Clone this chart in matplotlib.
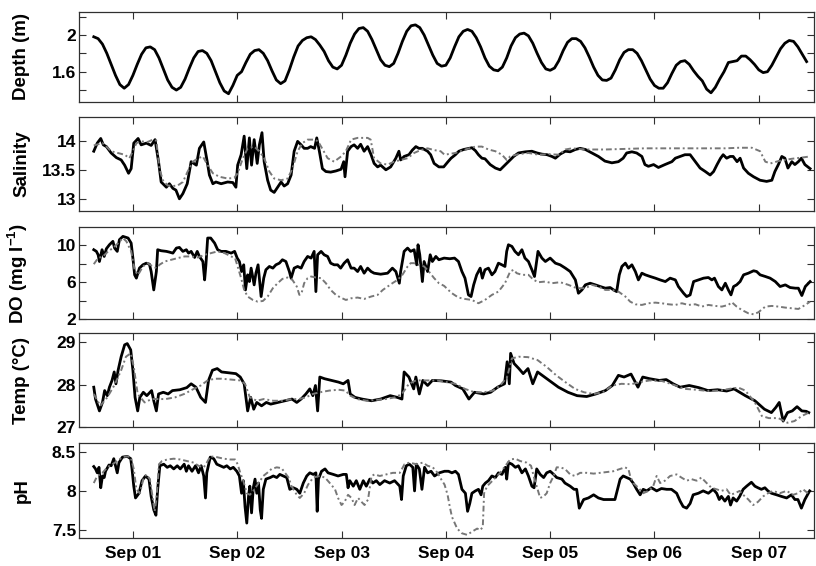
import numpy as np
import matplotlib
matplotlib.use("Agg")
import matplotlib.pyplot as plt
import matplotlib.dates as mdates

plt.rcParams['font.family'] = ['Liberation Sans', 'DejaVu Sans']
plt.rcParams['font.weight'] = 'bold'
plt.rcParams['mathtext.fontset'] = 'custom'
plt.rcParams['mathtext.rm'] = 'Liberation Sans:bold'
plt.rcParams['mathtext.default'] = 'rm'

# time origin of the record, values below are hours after it
start = np.datetime64('2012-08-31T15:00')

# water depth, hourly
depth = [1.98, 1.96, 1.90, 1.80, 1.68, 1.56, 1.46, 1.42,
         1.46, 1.56, 1.68, 1.79, 1.86, 1.87,
         1.84, 1.75, 1.63, 1.51, 1.43, 1.40,
         1.43, 1.52, 1.64, 1.75, 1.82, 1.83,
         1.80, 1.72, 1.60, 1.48, 1.39, 1.36,
         1.45, 1.56, 1.60, 1.70, 1.79, 1.83, 1.84,
         1.80, 1.72, 1.61, 1.51, 1.47,
         1.50, 1.62, 1.76, 1.88, 1.94, 1.97, 1.98,
         1.95, 1.89, 1.82, 1.72, 1.65, 1.63,
         1.67, 1.78, 1.91, 2.01, 2.07, 2.08,
         2.04, 1.95, 1.84, 1.73, 1.67, 1.655,
         1.69, 1.80, 1.93, 2.04, 2.10, 2.11,
         2.08, 2.00, 1.89, 1.78, 1.69, 1.66,
         1.67, 1.75, 1.87, 1.98, 2.04, 2.06,
         2.04, 1.97, 1.87, 1.75, 1.66, 1.62, 1.61,
         1.65, 1.75, 1.88, 1.97, 2.01, 2.02,
         1.99, 1.91, 1.80, 1.70, 1.63, 1.615,
         1.64, 1.72, 1.83, 1.92, 1.96, 1.96,
         1.93, 1.86, 1.76, 1.65, 1.56, 1.51, 1.505,
         1.53, 1.62, 1.73, 1.81, 1.84, 1.84,
         1.80, 1.72, 1.62, 1.52, 1.45, 1.42, 1.42,
         1.48, 1.58, 1.67, 1.71, 1.72,
         1.68, 1.61, 1.55, 1.50, 1.41, 1.37,
         1.43, 1.52, 1.60, 1.70, 1.71, 1.72, 1.77, 1.77, 1.73,
         1.68, 1.62, 1.59, 1.60, 1.67, 1.76, 1.85, 1.91, 1.94, 1.93, 1.87, 1.79, 1.71]
depth_h = np.arange(len(depth))

# [hour, value] pairs: measured (black) and second series (grey)
sal_obs = [[0, 13.83], [0.8, 13.97], [1.6, 14.05], [2.2, 13.94], [2.9, 13.91], [4.0, 13.80], [5.2, 13.72],
           [6.3, 13.68], [7.1, 13.59], [8.0, 13.45], [8.6, 13.53], [9.2, 13.97], [10.2, 14.05], [10.9, 13.94],
           [12.1, 13.97], [13.2, 13.93], [14.1, 14.03], [14.9, 13.65], [15.5, 13.30], [16.7, 13.21], [17.4, 13.27],
           [18.2, 13.19], [18.9, 13.16], [19.7, 13.01], [20.5, 13.10], [21.5, 13.27], [22.4, 13.65], [23.6, 13.59],
           [24.3, 13.88], [25.3, 13.99], [26.1, 13.65], [26.6, 13.42], [27.4, 13.27], [28.1, 13.30], [29.3, 13.27],
           [30.8, 13.30], [32.0, 13.29], [32.7, 13.21], [33.1, 13.59], [33.9, 13.77], [34.6, 14.09], [35.2, 13.53],
           [35.8, 14.06], [36.3, 13.59], [36.9, 14.03], [37.6, 13.62], [38.1, 13.94], [38.7, 14.15], [39.2, 13.65],
           [40.0, 13.33], [40.7, 13.16], [41.5, 13.12], [42.3, 13.21], [43.1, 13.30], [43.8, 13.23], [44.6, 13.27],
           [45.4, 13.42], [46.1, 13.83], [46.9, 14.00], [47.7, 13.94], [48.4, 13.88], [49.2, 13.88], [49.9, 13.91],
           [50.8, 13.88], [51.3, 14.06], [51.9, 13.83], [52.6, 13.53], [53.4, 13.48], [54.5, 13.47], [55.7, 13.49],
           [56.9, 13.52], [57.5, 13.65], [57.8, 13.39], [58.4, 13.83], [59.2, 13.91], [59.9, 13.94], [60.7, 13.88],
           [61.4, 13.95], [62.2, 13.83], [63.0, 13.91], [63.8, 13.77], [64.5, 13.62], [65.3, 13.56], [66.0, 13.59],
           [67.2, 13.51], [68.3, 13.56], [69.5, 13.71], [70.2, 13.83], [70.6, 13.68], [71.4, 13.74], [72.5, 13.77],
           [73.3, 13.85], [74.1, 13.91], [74.8, 13.88], [75.6, 13.88], [76.8, 13.83], [77.5, 13.77], [78.3, 13.62],
           [79.4, 13.56], [80.5, 13.56], [81.5, 13.65], [82.2, 13.71], [83.2, 13.77], [84.0, 13.83], [85.1, 13.86],
           [86.3, 13.88], [87.0, 13.89], [87.8, 13.84], [88.5, 13.77], [89.3, 13.71], [90.0, 13.70], [91.2, 13.60],
           [92.4, 13.54], [93.5, 13.51], [94.3, 13.57], [95.4, 13.65], [96.6, 13.74], [97.7, 13.80], [99.3, 13.82],
           [100.8, 13.83], [102.0, 13.80], [103.1, 13.78], [104.3, 13.77], [105.4, 13.74], [106.2, 13.71],
           [107.3, 13.78], [108.5, 13.83], [109.6, 13.82], [110.8, 13.86], [111.9, 13.88], [113.1, 13.86],
           [114.6, 13.80], [116.1, 13.74], [117.6, 13.66], [119.2, 13.63], [120.7, 13.65], [121.8, 13.71],
           [122.6, 13.80], [123.8, 13.82], [124.9, 13.80], [126.1, 13.74], [126.8, 13.60], [127.6, 13.57],
           [128.8, 13.60], [129.9, 13.55], [131.4, 13.60], [133.0, 13.65], [133.8, 13.71], [134.9, 13.74],
           [136.0, 13.77], [137.2, 13.77], [138.4, 13.65], [139.5, 13.54], [140.7, 13.48], [141.8, 13.42],
           [142.6, 13.48], [143.4, 13.60], [144.2, 13.71], [144.8, 13.77], [145.6, 13.71], [146.4, 13.74],
           [147.1, 13.74], [148.0, 13.65], [148.7, 13.71], [149.5, 13.54], [150.6, 13.45], [151.8, 13.39],
           [153.3, 13.33], [154.8, 13.31], [156.0, 13.33], [156.7, 13.48], [157.5, 13.60], [158.3, 13.74],
           [159.0, 13.71], [159.7, 13.54], [160.6, 13.65], [161.3, 13.60], [162.1, 13.65], [162.8, 13.71],
           [163.6, 13.60], [164.8, 13.53]]
sal_mod = [[0, 13.93], [2.0, 13.97], [2.9, 13.91], [4.0, 13.83], [5.5, 13.80], [7.1, 13.77], [8.2, 13.71],
           [9.0, 13.83], [9.8, 13.97], [10.9, 14.00], [12.4, 13.99], [13.6, 14.03], [14.4, 14.01], [15.1, 13.53],
           [15.9, 13.33], [17.0, 13.24], [18.2, 13.23], [19.3, 13.24], [20.5, 13.30], [21.6, 13.48], [22.8, 13.65],
           [24.0, 13.71], [25.1, 13.74], [26.2, 13.59], [27.4, 13.45], [28.9, 13.39], [30.8, 13.36], [32.3, 13.37],
           [33.1, 13.45], [34.3, 13.71], [35.4, 13.88], [36.9, 13.91], [38.1, 13.83], [39.2, 13.71], [40.4, 13.48],
           [41.5, 13.36], [43.1, 13.33], [44.6, 13.36], [45.7, 13.53], [46.9, 13.83], [48.0, 13.97], [49.2, 14.03],
           [50.8, 14.03], [51.6, 14.00], [52.3, 13.91], [53.8, 13.71], [55.3, 13.65], [56.9, 13.74], [58.0, 13.83],
           [59.2, 14.03], [60.7, 14.06], [63.0, 14.06], [63.7, 14.03], [64.5, 13.71], [66.0, 13.62], [67.6, 13.60],
           [69.1, 13.65], [70.6, 13.68], [72.2, 13.71], [73.7, 13.80], [75.2, 13.85], [76.8, 13.88], [78.3, 13.85],
           [79.8, 13.83], [80.7, 13.77], [83.2, 13.80], [85.5, 13.86], [87.8, 13.91], [89.3, 13.91], [90.8, 13.86],
           [92.4, 13.83], [93.9, 13.77], [95.0, 13.68], [95.8, 13.74], [97.7, 13.78], [100.0, 13.80],
           [102.4, 13.77], [104.6, 13.78], [107.0, 13.77], [108.5, 13.86], [110.0, 13.88], [113.1, 13.86],
           [117.6, 13.86], [122.2, 13.87], [126.8, 13.88], [131.4, 13.88], [136.0, 13.88], [140.7, 13.88],
           [145.3, 13.88], [148.4, 13.89], [151.4, 13.89], [153.3, 13.83], [154.5, 13.65], [155.7, 13.62],
           [157.5, 13.66], [160.6, 13.70], [162.8, 13.72], [164.8, 13.74]]

do_obs = [[0, 9.53], [0.6, 9.35], [1.0, 8.98], [1.3, 8.25], [1.9, 9.53], [2.4, 8.80], [2.9, 9.64], [3.6, 10.07],
          [4.4, 10.44], [4.8, 9.70], [5.4, 9.35], [5.9, 10.62], [6.7, 10.98], [7.9, 10.80], [8.6, 10.25],
          [9.0, 8.62], [9.4, 6.80], [9.8, 6.44], [10.5, 7.53], [11.3, 7.89], [12.1, 8.07], [12.8, 7.96],
          [13.2, 7.16], [13.8, 5.16], [14.4, 7.16], [14.7, 9.53], [15.5, 9.42], [16.7, 9.35], [17.4, 9.27],
          [18.2, 9.16], [19.0, 9.71], [19.7, 9.78], [20.5, 9.35], [21.3, 9.53], [21.8, 9.16], [22.4, 9.35],
          [23.2, 8.69], [23.8, 9.35], [24.3, 8.80], [25.1, 8.25], [25.5, 6.25], [25.8, 7.89], [26.2, 10.80],
          [26.9, 10.80], [27.8, 10.25], [28.5, 9.53], [29.3, 9.35], [30.4, 9.35], [31.6, 9.16], [32.4, 9.35],
          [33.0, 8.62], [33.5, 8.25], [34.0, 7.16], [34.5, 7.89], [34.9, 5.16], [35.4, 6.80], [35.8, 6.07],
          [36.2, 7.53], [36.9, 5.71], [37.3, 6.98], [37.8, 7.89], [38.5, 4.44], [39.1, 6.44], [39.6, 7.35],
          [40.4, 7.71], [41.2, 7.53], [41.9, 7.89], [42.7, 8.07], [43.4, 8.44], [44.2, 8.25], [45.0, 7.16],
          [45.4, 6.44], [46.1, 7.53], [46.9, 7.71], [47.7, 7.53], [48.4, 8.25], [49.2, 8.80], [50.0, 8.62],
          [50.7, 9.35], [51.1, 4.98], [51.5, 8.98], [52.3, 9.35], [53.0, 8.98], [53.8, 8.80], [54.5, 8.07],
          [55.3, 7.89], [56.1, 7.89], [56.8, 7.53], [57.6, 8.07], [58.4, 8.44], [59.2, 7.53], [59.9, 7.53],
          [60.7, 7.16], [61.4, 7.71], [62.2, 6.98], [63.0, 7.53], [63.8, 7.16], [64.5, 6.98], [66.0, 6.87],
          [67.6, 6.98], [68.7, 7.53], [69.5, 7.16], [70.3, 5.89], [70.6, 7.16], [71.4, 9.35], [72.2, 9.71],
          [72.9, 9.35], [73.7, 9.53], [74.3, 7.89], [74.6, 10.07], [75.0, 8.98], [75.6, 6.07], [76.0, 8.25],
          [76.8, 7.16], [77.4, 8.98], [77.9, 8.25], [78.7, 8.80], [79.4, 8.44], [80.6, 8.62], [81.9, 8.55],
          [83.0, 8.62], [83.9, 8.25], [84.7, 7.16], [85.4, 6.44], [86.2, 4.62], [86.8, 4.44], [87.4, 5.71],
          [88.1, 6.80], [88.9, 7.53], [89.4, 6.44], [90.0, 7.35], [90.8, 7.53], [91.6, 6.80], [92.3, 7.16],
          [93.1, 8.07], [93.9, 7.89], [94.6, 7.71], [95.0, 9.35], [95.4, 10.07], [96.2, 9.89], [96.9, 9.35],
          [97.7, 8.98], [98.5, 9.53], [99.2, 8.62], [100.0, 8.25], [100.8, 7.35], [101.4, 6.62], [102.2, 9.35],
          [103.1, 8.62], [103.9, 8.25], [105.0, 8.62], [106.2, 8.07], [107.3, 7.89], [108.5, 7.53], [109.6, 7.16],
          [110.8, 6.25], [111.5, 4.80], [112.3, 5.16], [113.1, 5.71], [114.2, 5.89], [115.4, 5.71], [116.5, 5.53],
          [117.7, 5.35], [118.8, 5.42], [119.6, 5.16], [120.3, 4.98], [120.9, 6.80], [121.5, 7.71], [122.3, 8.07],
          [123.0, 7.53], [123.8, 7.89], [124.6, 7.16], [125.3, 6.25], [126.1, 6.98], [126.9, 6.80], [128.0, 6.62],
          [129.2, 6.44], [130.3, 6.25], [131.5, 6.07], [132.6, 6.44], [133.8, 6.25], [134.5, 5.53], [135.7, 4.80],
          [136.4, 4.44], [137.2, 4.62], [138.0, 6.07], [139.1, 6.25], [140.3, 6.44], [141.4, 6.51], [142.2, 6.25],
          [142.8, 6.44], [143.7, 5.53], [144.5, 5.16], [145.3, 5.89], [146.0, 5.16], [146.6, 4.62], [147.2, 5.53],
          [147.9, 5.71], [148.7, 6.07], [149.5, 6.80], [150.6, 6.98], [151.8, 7.24], [152.5, 7.16], [153.3, 6.80],
          [154.5, 6.62], [155.6, 6.44], [156.8, 6.07], [157.9, 5.53], [159.1, 5.71], [160.2, 5.42], [161.4, 5.35],
          [162.1, 5.35], [162.9, 4.55], [163.7, 5.53], [164.8, 6.07]]
do_mod = [[0, 7.96], [1.0, 8.62], [2.1, 8.80], [3.3, 9.35], [4.4, 9.71], [5.6, 10.25], [6.7, 10.80], [7.5, 10.44],
          [8.6, 9.35], [9.4, 7.35], [10.2, 6.80], [11.3, 7.71], [12.4, 8.07], [13.6, 7.71], [14.4, 7.53],
          [15.1, 7.89], [16.3, 8.25], [17.8, 8.44], [19.3, 8.62], [20.9, 8.80], [22.4, 8.80], [24.0, 8.69],
          [25.5, 8.98], [27.0, 9.16], [28.5, 9.35], [30.1, 9.16], [31.6, 8.80], [32.5, 8.62], [33.1, 7.71],
          [33.9, 6.44], [34.6, 5.16], [35.4, 4.44], [36.6, 4.07], [37.7, 3.89], [38.9, 3.96], [40.0, 4.44],
          [41.2, 5.35], [42.3, 5.89], [43.4, 6.36], [44.6, 6.51], [45.7, 6.25], [46.7, 5.53], [47.3, 4.62],
          [47.8, 4.80], [48.4, 5.89], [49.2, 6.44], [50.0, 6.62], [51.1, 6.51], [52.3, 6.44], [53.4, 5.89],
          [54.5, 5.16], [55.7, 4.62], [56.8, 4.33], [58.0, 4.07], [59.2, 4.25], [60.7, 4.33], [62.2, 4.18],
          [63.8, 4.44], [65.3, 4.62], [66.5, 5.16], [67.6, 5.53], [68.7, 5.89], [69.9, 6.25], [71.0, 6.80],
          [72.2, 7.71], [72.9, 8.07], [73.7, 8.07], [74.8, 7.89], [76.0, 7.71], [77.1, 7.16], [78.3, 6.44],
          [79.4, 5.89], [80.6, 5.60], [81.7, 5.10], [82.4, 4.80], [83.9, 4.33], [85.4, 4.18], [87.0, 4.07],
          [88.5, 3.71], [90.0, 4.07], [91.6, 4.62], [93.1, 4.98], [94.6, 5.89], [95.8, 7.16], [96.6, 7.35],
          [97.3, 6.98], [98.5, 6.80], [100.0, 6.80], [101.2, 6.25], [102.3, 6.00], [103.9, 6.07], [105.4, 5.89],
          [107.3, 6.00], [109.2, 5.71], [111.1, 5.35], [113.1, 5.35], [114.6, 5.71], [116.1, 5.53], [117.7, 5.16],
          [119.2, 5.16], [120.7, 4.98], [122.3, 4.44], [123.4, 3.89], [124.6, 3.60], [126.1, 3.53], [127.6, 3.71],
          [129.2, 3.78], [130.7, 3.71], [132.2, 3.60], [133.8, 3.53], [135.3, 3.71], [136.8, 3.53], [138.4, 3.60],
          [139.9, 3.35], [141.4, 3.53], [143.0, 3.42], [144.5, 3.35], [146.0, 3.53], [146.8, 3.82], [147.9, 3.35],
          [149.1, 2.98], [150.6, 2.62], [151.8, 2.51], [152.9, 2.73], [154.5, 3.35], [156.0, 3.42], [157.5, 3.35],
          [159.1, 3.24], [160.6, 3.16], [162.1, 3.09], [163.7, 3.53], [164.8, 3.89]]

temp_obs = [[0, 27.94], [0.4, 27.66], [1.3, 27.38], [2.0, 27.58], [2.5, 27.86], [3.1, 27.74], [3.6, 27.94],
            [4.2, 28.10], [4.7, 28.30], [5.1, 28.02], [5.6, 28.34], [6.3, 28.66], [7.1, 28.94], [7.7, 28.97],
            [8.5, 28.82], [9.0, 28.34], [9.5, 27.70], [10.1, 27.38], [10.6, 27.70], [11.4, 27.82], [12.2, 27.74],
            [13.3, 27.86], [13.8, 27.62], [14.4, 27.38], [14.9, 27.78], [16.0, 27.82], [17.1, 27.78], [18.1, 27.86],
            [19.8, 27.88], [21.4, 27.93], [22.4, 28.02], [23.5, 27.94], [24.6, 27.70], [25.7, 27.58], [26.4, 28.10],
            [27.3, 28.34], [28.4, 28.38], [29.4, 28.30], [31.1, 28.28], [32.7, 28.26], [33.7, 28.18], [34.6, 28.02],
            [35.4, 27.38], [36.1, 27.70], [36.8, 27.42], [37.5, 27.58], [38.6, 27.50], [39.7, 27.58], [40.7, 27.54],
            [42.4, 27.58], [44.0, 27.62], [45.6, 27.66], [46.7, 27.58], [47.7, 27.66], [48.8, 27.78], [49.7, 27.90],
            [50.4, 27.74], [51.0, 27.98], [51.5, 27.38], [52.0, 28.18], [53.1, 28.14], [54.7, 28.10], [56.3, 28.06],
            [57.4, 28.02], [58.5, 28.10], [59.0, 27.78], [60.1, 27.70], [61.7, 27.66], [63.9, 27.62], [66.0, 27.66],
            [68.2, 27.74], [69.8, 27.70], [70.9, 27.66], [71.4, 28.30], [72.5, 28.18], [73.6, 27.90], [74.1, 28.18],
            [74.9, 27.78], [75.7, 28.10], [76.8, 27.98], [77.9, 28.10], [80.0, 28.09], [82.2, 28.06], [83.2, 27.98],
            [84.9, 27.90], [86.3, 27.66], [87.6, 27.82], [89.7, 27.78], [91.3, 27.82], [92.9, 27.94], [94.5, 28.02],
            [95.1, 28.54], [95.6, 28.02], [95.9, 28.74], [96.7, 28.50], [97.8, 28.38], [98.8, 28.26], [99.9, 28.38],
            [101.0, 28.02], [102.1, 28.30], [103.7, 28.18], [105.3, 28.06], [106.9, 27.94], [109.1, 27.82],
            [111.2, 27.74], [113.4, 27.72], [115.5, 27.78], [117.7, 27.86], [119.3, 27.98], [120.7, 28.22],
            [122.0, 28.18], [123.6, 28.25], [125.2, 27.94], [126.3, 28.18], [127.9, 28.14], [130.1, 28.10],
            [131.7, 28.12], [133.3, 28.02], [134.9, 27.94], [137.0, 27.98], [139.2, 27.93], [141.3, 27.86],
            [143.5, 27.88], [145.6, 27.85], [147.3, 27.90], [148.9, 27.80], [149.9, 27.74], [152.1, 27.62],
            [154.3, 27.42], [155.9, 27.34], [156.9, 27.46], [157.7, 27.58], [158.6, 27.14], [159.6, 27.34],
            [160.7, 27.38], [161.8, 27.48], [162.9, 27.38], [163.9, 27.37], [164.5, 27.34]]
temp_mod = [[0, 27.78], [1.5, 27.50], [3.1, 27.70], [4.7, 27.98], [6.3, 28.34], [7.4, 28.66], [8.5, 28.74],
            [9.2, 28.42], [10.1, 27.78], [11.7, 27.58], [13.3, 27.66], [14.9, 27.66], [16.5, 27.66], [18.7, 27.70],
            [20.8, 27.78], [23.0, 27.90], [24.6, 27.98], [26.2, 28.10], [27.8, 28.14], [29.4, 28.14], [31.6, 28.12],
            [33.7, 28.10], [34.8, 28.02], [35.9, 27.70], [37.5, 27.62], [39.1, 27.66], [41.3, 27.62], [43.4, 27.62],
            [45.6, 27.66], [47.2, 27.66], [48.8, 27.70], [50.4, 27.78], [52.0, 27.82], [54.2, 27.86], [56.3, 27.88],
            [57.9, 27.86], [59.0, 27.74], [60.6, 27.66], [62.8, 27.62], [65.0, 27.64], [67.1, 27.66], [69.3, 27.70],
            [70.9, 27.78], [72.5, 28.02], [74.1, 28.10], [76.3, 28.10], [78.9, 28.10], [81.1, 28.06], [83.2, 28.02],
            [85.4, 27.90], [87.6, 27.82], [89.7, 27.82], [91.9, 27.86], [93.5, 27.98], [95.1, 28.18], [96.2, 28.62],
            [97.8, 28.66], [99.9, 28.65], [102.1, 28.58], [104.2, 28.42], [106.4, 28.22], [108.5, 28.06],
            [110.7, 27.90], [112.8, 27.82], [115.0, 27.78], [117.1, 27.82], [119.3, 27.98], [121.4, 28.02],
            [123.6, 28.01], [125.7, 28.06], [127.9, 28.10], [130.6, 28.09], [133.3, 28.00], [136.0, 27.90],
            [138.6, 27.88], [141.3, 27.85], [144.0, 27.86], [146.2, 27.90], [148.3, 27.93], [149.9, 27.86],
            [152.1, 27.58], [153.7, 27.26], [155.3, 27.21], [157.5, 27.21], [159.6, 27.10], [161.2, 27.14],
            [162.9, 27.26], [164.5, 27.34]]

ph_obs = [[0, 8.31], [0.4, 8.28], [0.8, 8.23], [1.2, 8.30], [1.6, 8.04], [2.0, 8.19], [2.4, 8.17], [2.7, 8.25],
          [3.5, 8.33], [4.0, 8.32], [4.6, 8.41], [5.0, 8.32], [5.4, 8.23], [5.8, 8.36], [6.6, 8.43], [7.7, 8.44],
          [8.5, 8.41], [8.8, 8.28], [9.2, 8.06], [9.6, 7.91], [10.4, 7.97], [11.1, 8.13], [11.9, 8.19],
          [12.7, 8.15], [13.2, 7.93], [13.8, 7.76], [14.3, 7.69], [14.7, 8.02], [15.2, 8.32], [16.1, 8.34],
          [16.9, 8.30], [17.6, 8.32], [18.4, 8.28], [19.2, 8.32], [19.9, 8.28], [20.8, 8.34], [21.3, 8.25],
          [21.8, 8.32], [22.6, 8.25], [23.4, 8.32], [24.1, 8.23], [24.7, 8.32], [25.3, 8.19], [25.7, 7.91],
          [26.0, 8.23], [26.8, 8.43], [27.6, 8.41], [28.3, 8.34], [29.1, 8.32], [29.9, 8.30], [30.6, 8.32],
          [31.4, 8.28], [32.1, 8.30], [32.9, 8.25], [33.5, 8.19], [34.0, 7.97], [34.4, 8.13], [34.8, 7.80],
          [35.2, 7.59], [35.6, 7.93], [35.9, 8.06], [36.3, 7.72], [36.7, 8.04], [37.1, 8.15], [37.5, 7.97],
          [37.9, 8.10], [38.3, 7.76], [38.6, 7.65], [39.0, 8.02], [39.6, 8.15], [40.6, 8.17], [41.3, 8.19],
          [42.1, 8.17], [42.8, 8.21], [43.6, 8.19], [44.4, 8.17], [45.1, 8.02], [45.9, 8.04], [46.7, 8.02],
          [47.4, 7.97], [48.2, 8.10], [49.0, 8.19], [49.7, 8.23], [50.5, 8.21], [51.1, 8.23], [51.4, 7.74],
          [51.7, 8.15], [52.4, 8.25], [53.2, 8.28], [53.9, 8.23], [55.1, 8.21], [56.2, 8.19], [57.4, 8.21],
          [58.1, 8.21], [58.5, 8.04], [58.9, 8.13], [59.7, 8.06], [60.4, 8.13], [61.2, 8.02], [62.0, 8.13],
          [62.7, 8.06], [63.5, 8.15], [64.2, 8.10], [65.0, 8.13], [65.8, 8.08], [66.9, 8.13], [68.1, 8.10],
          [69.2, 8.13], [70.4, 8.06], [70.8, 7.89], [71.2, 8.19], [71.9, 8.32], [72.6, 8.34], [73.4, 8.30],
          [73.8, 8.00], [74.2, 8.34], [74.9, 8.28], [75.5, 8.02], [76.1, 8.30], [76.8, 8.23], [77.6, 8.25],
          [78.4, 8.19], [79.5, 8.23], [80.7, 8.25], [81.6, 8.25], [82.4, 8.23], [83.2, 8.25], [83.9, 8.21],
          [84.7, 8.02], [85.5, 7.97], [86.0, 7.74], [86.5, 7.84], [87.0, 7.97], [87.8, 8.00], [88.5, 8.02],
          [89.1, 7.95], [89.5, 8.06], [90.1, 8.10], [90.8, 8.13], [91.6, 8.19], [92.4, 8.17], [93.1, 8.23],
          [93.9, 8.21], [94.7, 8.30], [95.0, 8.15], [95.4, 8.36], [96.2, 8.34], [97.0, 8.30], [97.7, 8.32],
          [98.5, 8.23], [99.3, 8.28], [100.0, 8.19], [100.8, 8.06], [101.3, 8.04], [101.9, 8.28], [102.7, 8.21],
          [103.5, 8.17], [104.2, 8.23], [105.0, 8.25], [105.8, 8.21], [106.5, 8.17], [107.7, 8.15], [108.4, 8.10],
          [109.6, 8.06], [110.5, 8.02], [111.1, 8.02], [111.7, 7.78], [112.7, 7.89], [113.8, 7.91], [115.0, 7.95],
          [116.1, 7.91], [117.3, 7.89], [118.8, 7.89], [119.9, 7.89], [120.5, 8.02], [121.1, 8.15], [121.8, 8.19],
          [122.6, 8.17], [123.4, 8.15], [124.1, 8.10], [124.9, 8.02], [125.7, 7.95], [126.4, 8.02], [127.2, 8.00],
          [128.3, 8.04], [129.5, 8.00], [130.6, 8.03], [131.8, 8.02], [132.9, 8.02], [134.1, 7.97], [134.9, 7.87],
          [135.6, 7.80], [136.4, 7.78], [137.2, 7.84], [137.9, 7.95], [139.1, 7.97], [140.2, 8.00], [141.4, 7.97],
          [142.5, 8.02], [143.3, 7.97], [143.9, 7.89], [144.4, 7.93], [145.2, 7.87], [146.0, 7.93], [146.5, 7.82],
          [147.1, 7.91], [147.9, 7.87], [148.6, 7.93], [149.4, 8.02], [150.2, 8.06], [151.3, 8.11], [152.1, 8.06],
          [152.8, 8.04], [153.6, 8.02], [154.4, 8.04], [155.1, 8.00], [155.9, 7.97], [157.1, 7.95], [158.2, 7.93],
          [159.4, 7.91], [160.5, 7.95], [161.3, 7.89], [162.0, 7.89], [162.8, 7.78], [163.6, 7.89], [164.7, 8.00]]
ph_mod = [[0, 8.10], [0.8, 8.19], [2.0, 8.23], [3.1, 8.30], [4.3, 8.34], [5.4, 8.38], [6.6, 8.43], [7.7, 8.44],
          [8.5, 8.43], [9.2, 8.28], [9.8, 8.02], [10.6, 7.97], [11.4, 8.15], [12.1, 8.21], [12.9, 8.15],
          [13.4, 7.97], [14.0, 7.74], [14.4, 7.89], [15.0, 8.34], [15.7, 8.38], [16.9, 8.40], [18.4, 8.41],
          [19.9, 8.40], [21.5, 8.38], [23.0, 8.36], [24.1, 8.32], [25.3, 8.30], [26.0, 8.36], [26.8, 8.44],
          [28.3, 8.43], [29.9, 8.41], [31.4, 8.40], [32.5, 8.40], [33.1, 8.34], [33.7, 8.23], [34.4, 8.13],
          [35.2, 7.97], [35.9, 7.95], [36.7, 8.00], [37.9, 8.10], [39.0, 8.19], [39.9, 8.23], [40.9, 8.28],
          [42.1, 8.30], [43.2, 8.29], [44.0, 8.23], [44.8, 8.17], [45.5, 8.06], [46.7, 7.95], [47.4, 7.91],
          [48.4, 7.97], [49.3, 8.08], [50.5, 8.17], [52.0, 8.19], [53.2, 8.17], [54.3, 8.10], [55.5, 8.02],
          [56.2, 7.91], [57.0, 7.82], [57.7, 7.86], [58.5, 7.95], [59.3, 7.91], [60.0, 7.82], [60.8, 7.91],
          [61.6, 7.86], [62.3, 7.82], [63.1, 7.89], [63.9, 8.19], [64.6, 8.21], [65.8, 8.19], [67.3, 8.21],
          [68.8, 8.23], [70.4, 8.23], [71.5, 8.34], [72.6, 8.36], [74.2, 8.34], [75.7, 8.36], [76.8, 8.32],
          [78.0, 8.30], [79.1, 8.23], [79.9, 8.15], [80.7, 8.08], [81.4, 7.95], [81.9, 7.80], [82.4, 7.67],
          [83.6, 7.52], [84.7, 7.46], [85.9, 7.44], [87.0, 7.48], [88.2, 7.52], [88.9, 7.50], [89.5, 7.54],
          [89.8, 7.97], [90.5, 8.06], [91.2, 8.10], [92.4, 8.17], [93.5, 8.23], [94.7, 8.32], [95.8, 8.40],
          [97.0, 8.41], [98.1, 8.38], [99.6, 8.36], [100.6, 8.32], [101.3, 8.17], [102.1, 8.02], [102.7, 7.91],
          [103.5, 7.93], [104.2, 7.97], [105.0, 8.10], [105.8, 8.19], [106.5, 8.30], [107.3, 8.30], [108.4, 8.28],
          [109.6, 8.21], [110.7, 8.19], [111.9, 8.23], [113.4, 8.23], [115.0, 8.22], [116.5, 8.23], [118.0, 8.24],
          [119.5, 8.25], [121.1, 8.28], [122.2, 8.30], [123.0, 8.28], [123.4, 8.19], [124.1, 8.10], [125.3, 8.04],
          [126.4, 7.97], [127.6, 8.00], [128.7, 8.06], [129.5, 8.19], [130.3, 8.10], [131.4, 8.13], [132.6, 8.19],
          [134.1, 8.21], [135.2, 8.17], [136.4, 8.13], [137.5, 8.15], [138.7, 8.13], [139.8, 8.17], [141.0, 8.10],
          [142.1, 8.04], [143.3, 8.02], [144.4, 8.00], [145.6, 8.02], [146.5, 7.95], [147.5, 7.97], [148.6, 8.00],
          [149.4, 7.95], [150.6, 7.89], [151.7, 7.82], [152.8, 7.86], [154.0, 7.93], [155.1, 7.97], [156.3, 8.00],
          [157.8, 7.97], [159.4, 8.00], [160.9, 7.95], [162.0, 7.97], [163.2, 8.02], [164.3, 7.97]]


def to_time(hours):
    return start + (np.asarray(hours, dtype=float) * 60).round().astype('timedelta64[m]')


def split(pairs):
    a = np.array(pairs)
    return to_time(a[:, 0]), a[:, 1]


panels = [
    ("Depth (m)", None, None, (1.27, 2.25), [1.4, 1.6, 1.8, 2.0, 2.2], ["", "1.6", "", "2", ""]),
    ("Salinity", sal_obs, sal_mod, (12.8, 14.42), [13, 13.5, 14], ["13", "13.5", "14"]),
    ("DO (mg l$^{-1}$)", do_obs, do_mod, (2, 12), [2, 4, 6, 8, 10], ["2", "", "6", "", "10"]),
    ("Temp (°C)", temp_obs, temp_mod, (27, 29.22), [27, 28, 29], ["27", "28", "29"]),
    ("pH", ph_obs, ph_mod, (7.4, 8.61), [7.5, 8, 8.5], ["7.5", "8", "8.5"]),
]
# axes boxes in pixels: top, bottom
boxes = [(12, 102), (117, 211), (227, 319), (333, 427), (443, 538)]

W, H = 816, 566
fig = plt.figure(figsize=(W / 100, H / 100), dpi=100)
left, right = 79, 814
frame = '#303030'
grey = '#777777'

for (label, obs, mod, ylim, yt, ytl), (top, bot) in zip(panels, boxes):
    ax = fig.add_axes([left / W, 1 - bot / H, (right - left) / W, (bot - top) / H])
    if obs is None:
        ax.plot(to_time(depth_h), depth, color='black', lw=2.0)
    else:
        t, v = split(obs)
        ax.plot(t, v, color='black', lw=2.0)
        t, v = split(mod)
        ax.plot(t, v, color=grey, lw=1.4, dashes=(3, 1.5, 1, 1.5))
    ax.set_ylim(*ylim)
    ax.set_yticks(yt, ytl)
    ax.set_xlim(to_time(-3.4), to_time(165.7))
    ax.xaxis.set_major_locator(mdates.DayLocator())
    ax.xaxis.set_major_formatter(mdates.DateFormatter('%b %d'))
    ax.tick_params(direction='in', top=True, right=True, length=5, width=0.8,
                   color=frame, labelsize=12.5, pad=2)
    ax.tick_params(axis='x', pad=6)
    if label != "pH":
        ax.tick_params(labelbottom=False)
    for s in ax.spines.values():
        s.set_color(frame)
        s.set_linewidth(0.9)
    ax.set_ylabel(label, fontsize=13.5, fontweight='bold')
    ax.yaxis.set_label_coords(-0.066, 0.5)

fig.savefig('out.png', dpi=100)
